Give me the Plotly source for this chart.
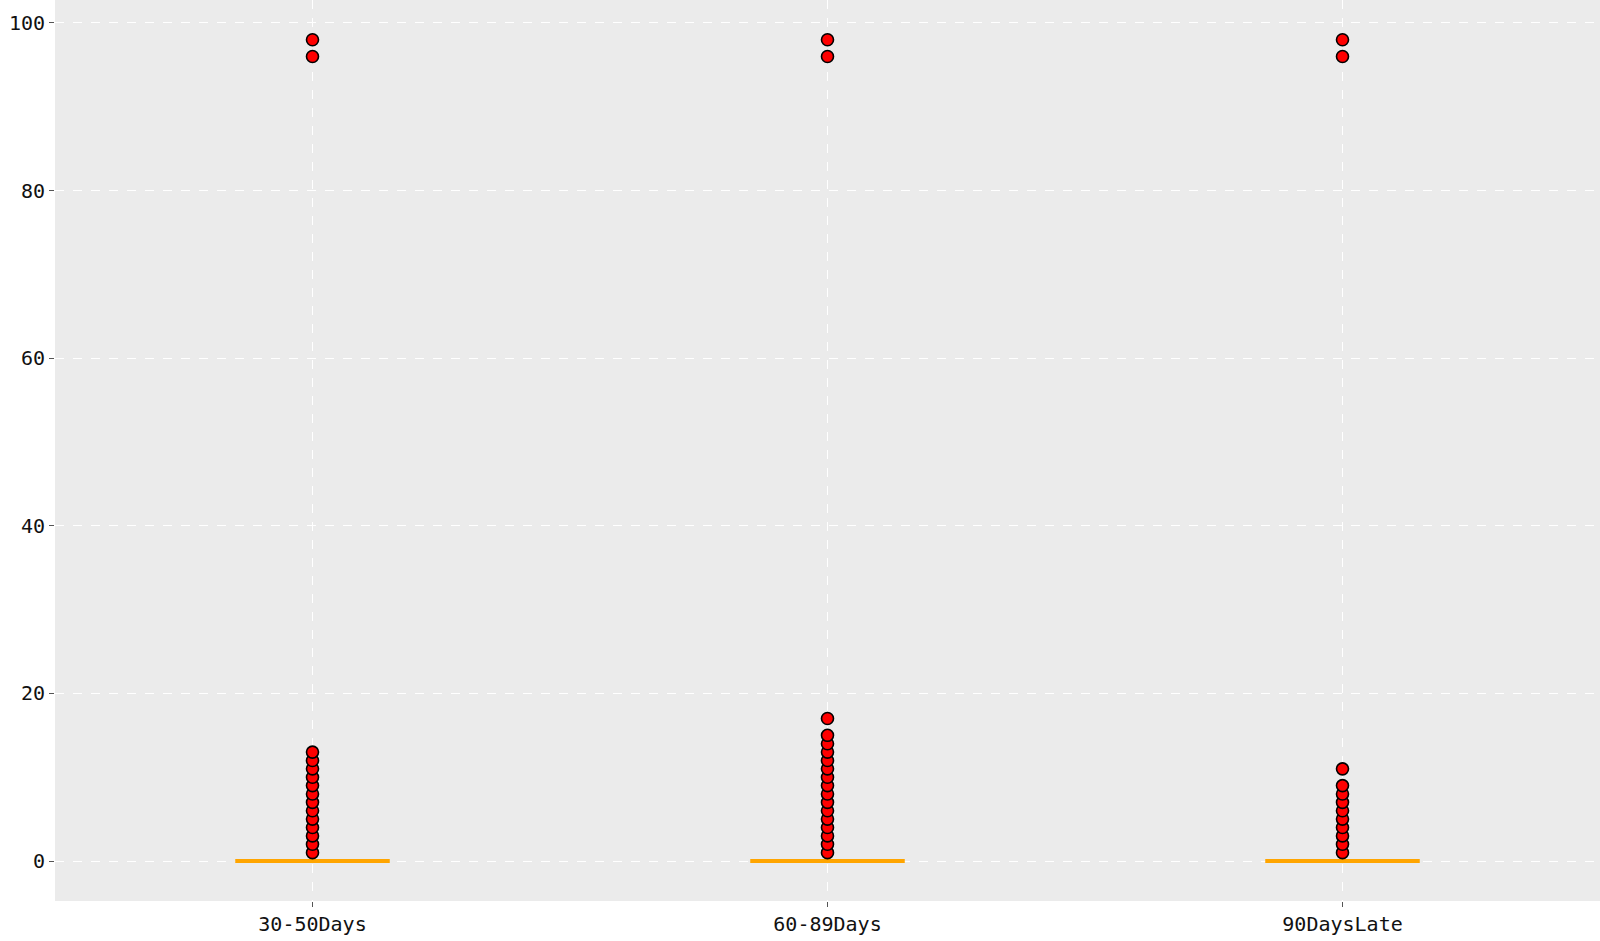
import plotly.graph_objects as go

categories = ["30-50Days", "60-89Days", "90DaysLate"]
positions = [1, 2, 3]
q1 = [0, 0, 0]
median = [0, 0, 0]
q3 = [0, 0, 0]
lowerfence = [0, 0, 0]
upperfence = [0, 0, 0]
outliers_30_50 = [1, 2, 3, 4, 5, 6, 7, 8, 9, 10, 11, 12, 13, 96, 98]
outliers_60_89 = [1, 2, 3, 4, 5, 6, 7, 8, 9, 10, 11, 12, 13, 14, 15, 17, 96, 98]
outliers_90_late = [1, 2, 3, 4, 5, 6, 7, 8, 9, 11, 96, 98]
outliers = [outliers_30_50, outliers_60_89, outliers_90_late]
yticks = [0, 20, 40, 60, 80, 100]

fig = go.Figure()
fig.add_trace(go.Box(
    x=positions, q1=q1, median=median, q3=q3,
    lowerfence=lowerfence, upperfence=upperfence,
    width=0.3, whiskerwidth=0,
    line=dict(color="#FFA500", width=4),
    fillcolor="rgba(0,0,0,0)",
    boxpoints=False, showlegend=False, hoverinfo="skip",
))
for pos, vals in zip(positions, outliers):
    fig.add_trace(go.Scatter(
        x=[pos] * len(vals), y=vals, mode="markers",
        marker=dict(color="#FF0000", size=12, line=dict(color="black", width=1.6)),
        showlegend=False,
    ))

font_family = "DejaVu Sans Mono"
fig.update_layout(
    width=1600, height=941,
    margin=dict(l=55, r=0, t=0, b=40),
    paper_bgcolor="white",
    plot_bgcolor="#EBEBEB",
    font=dict(family=font_family, size=20, color="#111111"),
    xaxis=dict(
        range=[0.5, 3.5], tickvals=positions, ticktext=categories,
        showgrid=True, gridcolor="white", griddash="dash", gridwidth=1,
        zeroline=False, showline=False, automargin=False,
        ticks="outside", ticklen=5, tickcolor="#555555", tickwidth=1,
    ),
    yaxis=dict(
        range=[-4.77, 102.74], tickvals=yticks,
        showgrid=True, gridcolor="white", griddash="dash", gridwidth=1,
        zeroline=False, showline=False, automargin=False,
        ticks="outside", ticklen=5, tickcolor="#555555", tickwidth=1,
    ),
)
fig.write_html("out.html", config={"displayModeBar": False},
               post_script="document.body.style.margin='0';")
